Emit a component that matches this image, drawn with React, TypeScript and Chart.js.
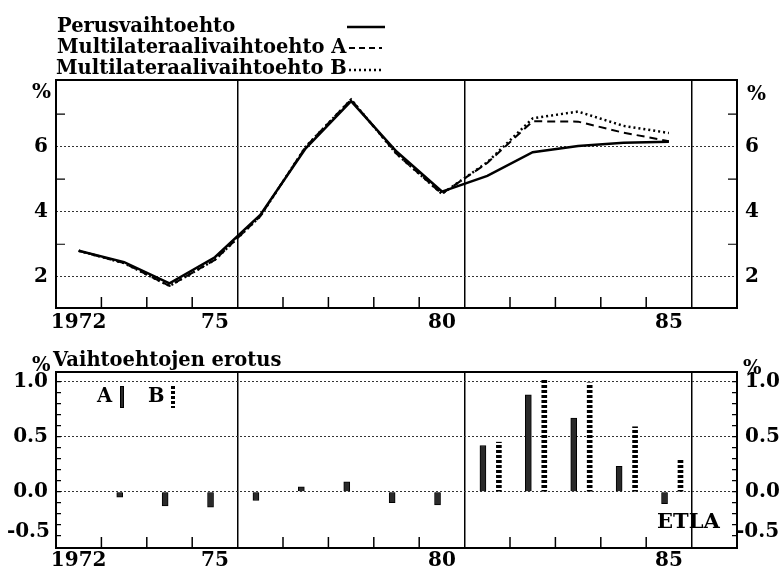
import React, { useEffect, useRef } from "react";
import { Chart, registerables } from "chart.js";

Chart.register(...registerables);

// ---------- data ----------
const years = [1972, 1973, 1974, 1975, 1976, 1977, 1978, 1979, 1980, 1981, 1982, 1983, 1984, 1985];
const perus = [2.8, 2.45, 1.8, 2.6, 3.9, 5.95, 7.4, 5.85, 4.62, 5.1, 5.83, 6.02, 6.12, 6.15];
const multiA = [2.8, 2.42, 1.72, 2.52, 3.86, 6.0, 7.45, 5.78, 4.55, 5.5, 6.78, 6.77, 6.43, 6.17];
const multiB = [2.8, 2.42, 1.72, 2.52, 3.86, 6.0, 7.45, 5.78, 4.55, 5.52, 6.87, 7.08, 6.64, 6.42];
const erotusA = [null, -0.05, -0.13, -0.14, -0.08, 0.045, 0.09, -0.1, -0.12, 0.42, 0.88, 0.67, 0.23, -0.11];
const erotusB = [null, null, null, null, null, null, null, null, null, 0.45, 1.02, 0.99, 0.59, 0.29];

const xTickLabels: Record<string, string> = { "1972": "1972", "1975": "75", "1980": "80", "1985": "85" };
const topYTickLabels = [2, 4, 6];
const bottomYTickLabels = [0, 0.5, 1];
const topYMinor = [3, 5, 7];
const fullLines = [1975.5, 1980.5, 1985.5];

const FONT = "'DejaVu Serif', serif";
const FS = 20;
const FS_TEXT = 19.5;
const W = 781;
const TOP_H = 335;
const BOT_H = 236;
const X_MIN = 1971.5;
const X_MAX = 1986.5;
const BAR_A_SHIFT = -0.03;
const BAR_B_SHIFT = 0.2;

const bottomYMinor: number[] = [];
for (let k = -4; k <= 10; k++) bottomYMinor.push(k / 10);

const framePlugin = {
  id: "frame",
  afterDraw(chart: any, _args: any, opts: any) {
    const { ctx, chartArea: a, scales } = chart;
    ctx.save();
    ctx.strokeStyle = "#000";
    ctx.lineWidth = 1.5;
    for (let v = X_MIN + 1; v < X_MAX; v += 1) {
      if (fullLines.includes(v)) continue;
      const px = scales.x.getPixelForValue(v);
      ctx.beginPath();
      ctx.moveTo(px, a.bottom);
      ctx.lineTo(px, a.bottom - opts.xTickLen);
      ctx.stroke();
    }
    ctx.lineWidth = 1.2;
    for (const v of opts.yMinor as number[]) {
      const py = scales.y.getPixelForValue(v);
      ctx.beginPath();
      ctx.moveTo(a.left, py);
      ctx.lineTo(a.left + opts.yTickLen, py);
      ctx.moveTo(a.right, py);
      ctx.lineTo(a.right - opts.yTickLen, py);
      ctx.stroke();
    }
    ctx.lineWidth = 2;
    ctx.strokeRect(a.left, a.top, a.right - a.left, a.bottom - a.top);
    ctx.restore();
  },
};

function xScale(labelPad: number, height: number) {
  return {
    type: "linear",
    min: X_MIN,
    max: X_MAX,
    offset: false,
    afterFit: (s: any) => {
      s.height = height;
    },
    border: { display: false },
    grid: {
      offset: false,
      drawTicks: false,
      lineWidth: 1.5,
      color: (c: any) => (c.tick && fullLines.includes(c.tick.value) ? "#000" : "rgba(0,0,0,0)"),
    },
    ticks: {
      stepSize: 0.5,
      autoSkip: false,
      maxRotation: 0,
      maxTicksLimit: 100,
      includeBounds: false,
      padding: labelPad,
      color: "#000",
      font: { family: FONT, size: FS, weight: "bold" },
      callback: (v: any) => xTickLabels[String(v)] ?? "",
    },
  };
}

function yScale(pos: "left" | "right", min: number, max: number, step: number, shown: number[], width: number, fmt: (v: number) => string, grid: boolean) {
  return {
    type: "linear",
    position: pos,
    min,
    max,
    afterFit: (s: any) => {
      s.width = width;
    },
    border: { display: false, dash: [2, 2] },
    grid: {
      display: grid,
      drawOnChartArea: grid,
      drawTicks: false,
      lineWidth: 1,
      color: (c: any) => (c.tick && shown.includes(c.tick.value) ? "#333" : "rgba(0,0,0,0)"),
    },
    ticks: {
      stepSize: step,
      includeBounds: false,
      maxTicksLimit: 100,
      padding: 8,
      color: "#000",
      font: { family: FONT, size: FS, weight: "bold" },
      callback: (v: any) => (shown.includes(v) ? fmt(v) : ""),
    },
  };
}

function makeDashPattern(): any {
  const c = document.createElement("canvas");
  c.width = 6;
  c.height = 5;
  const g = c.getContext("2d")!;
  g.fillStyle = "#fff";
  g.fillRect(0, 0, 6, 5);
  g.fillStyle = "#000";
  g.fillRect(0, 0, 6, 3);
  return g.createPattern(c, "repeat");
}

const txt = (extra: React.CSSProperties): React.CSSProperties => ({
  position: "absolute",
  fontFamily: FONT,
  fontWeight: "bold",
  fontSize: FS_TEXT,
  lineHeight: 1,
  color: "#000",
  whiteSpace: "nowrap",
  ...extra,
});

export default function App() {
  const topRef = useRef<HTMLCanvasElement>(null);
  const botRef = useRef<HTMLCanvasElement>(null);

  useEffect(() => {
    const f1 = (v: number) => String(v);
    const top = new Chart(topRef.current!, {
      type: "line",
      data: {
        datasets: [
          {
            label: "Perusvaihtoehto",
            data: years.map((y, i) => ({ x: y, y: perus[i] })),
            borderColor: "#000",
            borderWidth: 2.5,
            pointRadius: 0,
          },
          {
            label: "Multilateraalivaihtoehto A",
            data: years.map((y, i) => ({ x: y, y: multiA[i] })),
            borderColor: "#000",
            borderWidth: 2,
            borderDash: [8, 5],
            pointRadius: 0,
          },
          {
            label: "Multilateraalivaihtoehto B",
            data: years.map((y, i) => ({ x: y, y: multiB[i] })),
            borderColor: "#000",
            borderWidth: 2.5,
            borderDash: [2, 3],
            pointRadius: 0,
          },
        ],
      },
      options: {
        responsive: false,
        animation: false,
        devicePixelRatio: 1,
        layout: { padding: { top: 80, left: 0, right: 0, bottom: 0 } },
        plugins: {
          legend: { display: false },
          tooltip: { enabled: false },
          frame: { xTickLen: 11, yMinor: topYMinor, yTickLen: 9 },
        } as any,
        scales: {
          x: xScale(3, TOP_H - 308),
          y: yScale("left", 1.04, 8.05, 1, topYTickLabels, 56, f1, true),
          y2: yScale("right", 1.04, 8.05, 1, topYTickLabels, W - 737, f1, false),
        } as any,
      },
      plugins: [framePlugin],
    } as any);

    const pattern = makeDashPattern();
    const f2 = (v: number) => v.toFixed(1);
    const bot = new Chart(botRef.current!, {
      type: "bar",
      data: {
        datasets: [
          {
            label: "A",
            data: years
              .map((y, i) => ({ x: y + BAR_A_SHIFT, y: erotusA[i] }))
              .filter((p) => p.y !== null),
            backgroundColor: "#2a2a2a",
            borderColor: "#000",
            borderWidth: 1,
            barThickness: 6,
          },
          {
            label: "B",
            data: years
              .map((y, i) => ({ x: y + BAR_B_SHIFT, y: erotusB[i] }))
              .filter((p) => p.y !== null),
            backgroundColor: pattern,
            borderWidth: 0,
            barThickness: 5,
          },
        ],
      },
      options: {
        responsive: false,
        animation: false,
        devicePixelRatio: 1,
        layout: { padding: { top: 372 - TOP_H, left: 0, right: 0, bottom: 0 } },
        plugins: {
          legend: { display: false },
          tooltip: { enabled: false },
          frame: { xTickLen: 11, yMinor: bottomYMinor, yTickLen: 5 },
        } as any,
        scales: {
          x: xScale(1, BOT_H - (548 - TOP_H)),
          y: yScale("left", -0.512, 1.088, 0.5, bottomYTickLabels, 56, f2, true),
          y2: yScale("right", -0.512, 1.088, 0.5, bottomYTickLabels, W - 737, f2, false),
        } as any,
      },
      plugins: [framePlugin],
    } as any);

    return () => {
      top.destroy();
      bot.destroy();
    };
  }, []);

  return (
    <div style={{ position: "absolute", left: 0, top: 0, width: W, height: 571, background: "#fff", overflow: "hidden" }}>
      <canvas ref={topRef} width={W} height={TOP_H} style={{ position: "absolute", left: 0, top: 0, width: W, height: TOP_H }} />
      <canvas ref={botRef} width={W} height={BOT_H} style={{ position: "absolute", left: 0, top: TOP_H, width: W, height: BOT_H }} />

      {/* top legend */}
      <div style={txt({ left: 57, top: 15.5 })}>Perusvaihtoehto</div>
      <div style={txt({ left: 57, top: 36.5 })}>Multilateraalivaihtoehto A</div>
      <div style={txt({ left: 56, top: 57.5 })}>Multilateraalivaihtoehto B</div>
      <svg style={{ position: "absolute", left: 345, top: 20, overflow: "visible" }} width={42} height={56}>
        <line x1={2} y1={7} x2={40} y2={7} stroke="#000" strokeWidth={2.5} />
        <line x1={4} y1={28} x2={37} y2={28} stroke="#000" strokeWidth={2} strokeDasharray="6 4" />
        <line x1={4} y1={50} x2={37} y2={50} stroke="#000" strokeWidth={2.5} strokeDasharray="2 3" />
      </svg>

      <div style={txt({ left: 32, top: 81, fontSize: FS })}>%</div>
      <div style={txt({ left: 747, top: 83, fontSize: FS })}>%</div>

      {/* bottom panel */}
      <div style={txt({ left: 32, top: 355 })}>%</div>
      <div style={txt({ left: 53, top: 350 })}>Vaihtoehtojen erotus</div>
      <div style={txt({ left: 743, top: 358 })}>%</div>
      <div style={txt({ right: W - 50, top: 520, fontSize: FS })}>-0.5</div>
      <div style={txt({ left: 736, top: 520, fontSize: FS })}>-0.5</div>

      <div style={txt({ left: 97, top: 386 })}>A</div>
      <div style={{ position: "absolute", left: 120, top: 386, width: 4, height: 22, background: "#2a2a2a", border: "1px solid #000", boxSizing: "border-box" }} />
      <div style={txt({ left: 148, top: 386 })}>B</div>
      <div
        style={{
          position: "absolute",
          left: 171,
          top: 386,
          width: 4,
          height: 22,
          background: "repeating-linear-gradient(to bottom, #000 0px, #000 3px, #fff 3px, #fff 5px)",
        }}
      />
      <div style={txt({ left: 657, top: 510, fontSize: 21 })}>ETLA</div>
    </div>
  );
}
